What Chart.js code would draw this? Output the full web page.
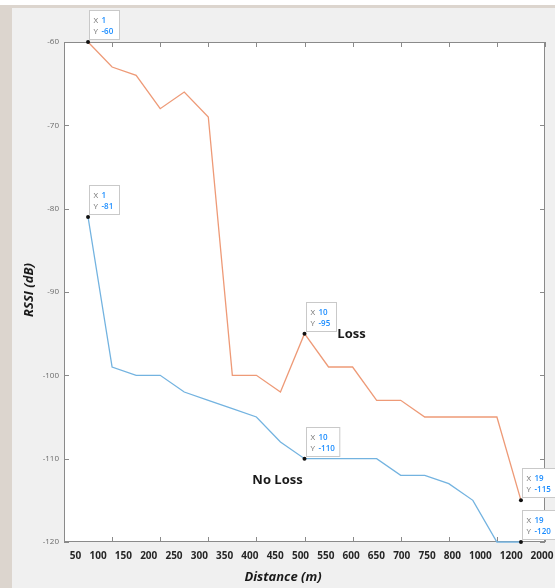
<!DOCTYPE html>
<html>
<head>
<meta charset="utf-8">
<script src="https://cdn.jsdelivr.net/npm/chart.js@4/dist/chart.umd.min.js"></script>
<style>
  html, body { margin: 0; padding: 0; background: #ffffff; }
  #wrap { width: 555px; height: 588px; position: relative; }
</style>
</head>
<body>
<div id="wrap"><canvas id="rssiChart" width="555" height="588"></canvas></div>
<script>
// Sample number along the route and the distance label of each sample
const sampleNo = [1, 2, 3, 4, 5, 6, 7, 8, 9, 10, 11, 12, 13, 14, 15, 16, 17, 18, 19];
const distanceLabels = ['50', '100', '150', '200', '250', '300', '350', '400', '450', '500',
                        '550', '600', '650', '700', '750', '800', '1000', '1200', '2000'];

// Received signal strength (dB)
const rssiLoss   = [-60, -63, -64, -68, -66, -69, -100, -100, -102, -95,
                    -99, -99, -103, -103, -105, -105, -105, -105, -115];
const rssiNoLoss = [-81, -99, -100, -100, -102, -103, -104, -105, -108, -110,
                    -110, -110, -110, -112, -112, -113, -115, -120, -120];

// Samples carrying a data tip
const tipSamples = [1, 10, 19];

const LOSS_COLOR = '#ee9a77';
const NOLOSS_COLOR = '#73b3e0';
const FRAME_COLOR = '#8a8a8a';

// The distance labels are set as one row of text: each label takes room in
// proportion to its length, with a constant gap (in character widths) between labels.
const LABEL_GAP = 1.6;
const labelSlots = [];
distanceLabels.forEach((t, i) => {
  labelSlots.push(i === 0 ? 0
    : labelSlots[i - 1] + (distanceLabels[i - 1].length + t.length) / 2 + LABEL_GAP);
});

function toPoints(values) {
  return values.map((v, i) => ({ x: sampleNo[i], y: v }));
}
function tipRadius(ctx) {
  return tipSamples.includes(sampleNo[ctx.dataIndex]) ? 2 : 0;
}

const figurePlugin = {
  id: 'figure',
  beforeDraw(chart) {
    const { ctx, chartArea: a, width, height } = chart;
    ctx.save();
    ctx.fillStyle = '#ffffff';
    ctx.fillRect(0, 0, width, height);
    ctx.fillStyle = '#dcd5ce';
    ctx.fillRect(0, 5, width, height - 5);
    ctx.fillStyle = '#f0f0f0';
    ctx.fillRect(12, 8, width - 12, height - 8);
    ctx.fillStyle = '#ffffff';
    ctx.fillRect(a.left, a.top, a.right - a.left, a.bottom - a.top);
    ctx.restore();
  },
  beforeDatasetsDraw(chart) {
    const { ctx, chartArea: a, scales } = chart;
    const xs = scales.x, ys = scales.y;
    ctx.save();
    ctx.strokeStyle = FRAME_COLOR;
    ctx.lineWidth = 1;
    ctx.strokeRect(a.left + 0.5, a.top + 0.5, a.right - a.left - 1, a.bottom - a.top - 1);
    ctx.beginPath();
    // inward tick marks on all four sides
    for (let v = xs.min; v <= xs.max; v += 2) {
      const px = Math.round(xs.getPixelForValue(v)) + 0.5;
      ctx.moveTo(px, a.bottom); ctx.lineTo(px, a.bottom - 5);
      ctx.moveTo(px, a.top); ctx.lineTo(px, a.top + 5);
    }
    ys.ticks.forEach(t => {
      const py = Math.round(ys.getPixelForValue(t.value)) + 0.5;
      ctx.moveTo(a.left, py); ctx.lineTo(a.left + 5, py);
      ctx.moveTo(a.right, py); ctx.lineTo(a.right - 5, py);
    });
    ctx.stroke();
    ctx.restore();
  },
  afterDatasetsDraw(chart) {
    const { ctx } = chart;
    ctx.save();
    ctx.textBaseline = 'middle';
    chart.data.datasets.forEach((ds, di) => {
      const meta = chart.getDatasetMeta(di);
      tipSamples.forEach(s => {
        const idx = sampleNo.indexOf(s);
        const el = meta.data[idx];
        const value = ds.data[idx].y;
        const xTxt = String(s), yTxt = String(value);
        ctx.font = '600 8px "Open Sans"';
        const w = Math.max(30, 12 + Math.max(ctx.measureText(xTxt).width, ctx.measureText(yTxt).width) + 5);
        const h = 29;
        const bx = Math.round(el.x) + 1.5, by = Math.round(el.y) - 31.5;
        ctx.fillStyle = '#ffffff';
        ctx.strokeStyle = '#c9c9c9';
        ctx.lineWidth = 1;
        ctx.fillRect(bx, by, w, h);
        ctx.strokeRect(bx, by, w, h);
        ctx.textAlign = 'left';
        ctx.font = '8px "Open Sans"';
        ctx.fillStyle = '#707070';
        ctx.fillText('X', bx + 4, by + 10.5);
        ctx.fillText('Y', bx + 4, by + 21);
        ctx.font = '600 8px "Open Sans"';
        ctx.fillStyle = '#1a8cff';
        ctx.fillText(xTxt, bx + 12, by + 10.5);
        ctx.fillText(yTxt, bx + 12, by + 21);
      });
    });
    ctx.restore();
  },
  afterDraw(chart) {
    const { ctx } = chart;
    ctx.save();
    ctx.fillStyle = '#1a1a1a';
    ctx.textAlign = 'center';
    ctx.textBaseline = 'middle';

    // series annotations next to the 10th sample
    const i10 = sampleNo.indexOf(10);
    const pLoss = chart.getDatasetMeta(0).data[i10];
    const pNoLoss = chart.getDatasetMeta(1).data[i10];
    ctx.font = 'bold 13px "Open Sans"';
    ctx.fillText('Loss', pLoss.x + 47, pLoss.y + 1);
    ctx.fillText('No Loss', pNoLoss.x - 27, pNoLoss.y + 22);

    // axis titles
    ctx.font = 'italic bold 13px "Open Sans"';
    ctx.fillText('Distance (m)', 283, 577);
    ctx.translate(29, 290);
    ctx.rotate(-Math.PI / 2);
    ctx.fillText('RSSI (dB)', 0, 0);
    ctx.restore();
  }
};

new Chart(document.getElementById('rssiChart'), {
  type: 'line',
  data: {
    datasets: [
      {
        label: 'Loss',
        data: toPoints(rssiLoss),
        borderColor: LOSS_COLOR,
        borderWidth: 1.3,
        pointRadius: tipRadius,
        pointBackgroundColor: '#111111',
        pointBorderWidth: 0,
        tension: 0,
        clip: 3
      },
      {
        label: 'No Loss',
        data: toPoints(rssiNoLoss),
        borderColor: NOLOSS_COLOR,
        borderWidth: 1.3,
        pointRadius: tipRadius,
        pointBackgroundColor: '#111111',
        pointBorderWidth: 0,
        tension: 0,
        clip: 3
      }
    ]
  },
  options: {
    responsive: false,
    animation: false,
    devicePixelRatio: 1,
    layout: { padding: { left: 0, top: 42, right: 10, bottom: 0 } },
    plugins: {
      legend: { display: false },
      tooltip: { enabled: false }
    },
    scales: {
      x: {
        type: 'linear',
        min: 0,
        max: 20,
        display: false
      },
      dist: {
        type: 'linear',
        position: 'bottom',
        axis: 'x',
        min: -2.1,
        max: 85.35,
        grid: { display: false, drawTicks: false },
        border: { display: false },
        afterBuildTicks: scale => {
          scale.ticks = labelSlots.map(v => ({ value: v }));
        },
        afterFit: scale => {
          scale.height = 46;
          scale.paddingLeft = 0;
          scale.paddingRight = 0;
        },
        ticks: {
          autoSkip: false,
          maxRotation: 0,
          padding: 8,
          color: '#262626',
          font: { family: 'Open Sans', size: 10, weight: 'bold' },
          callback: (v, i) => distanceLabels[i]
        }
      },
      y: {
        type: 'linear',
        min: -120,
        max: -60,
        grid: { display: false, drawTicks: false },
        border: { display: false },
        afterFit: scale => {
          scale.width = 64;
          scale.paddingTop = 0;
          scale.paddingBottom = 0;
        },
        ticks: {
          stepSize: 10,
          padding: 5,
          color: '#6a6a6a',
          font: { family: 'Open Sans', size: 8 }
        }
      }
    }
  },
  plugins: [figurePlugin]
});
</script>
</body>
</html>
